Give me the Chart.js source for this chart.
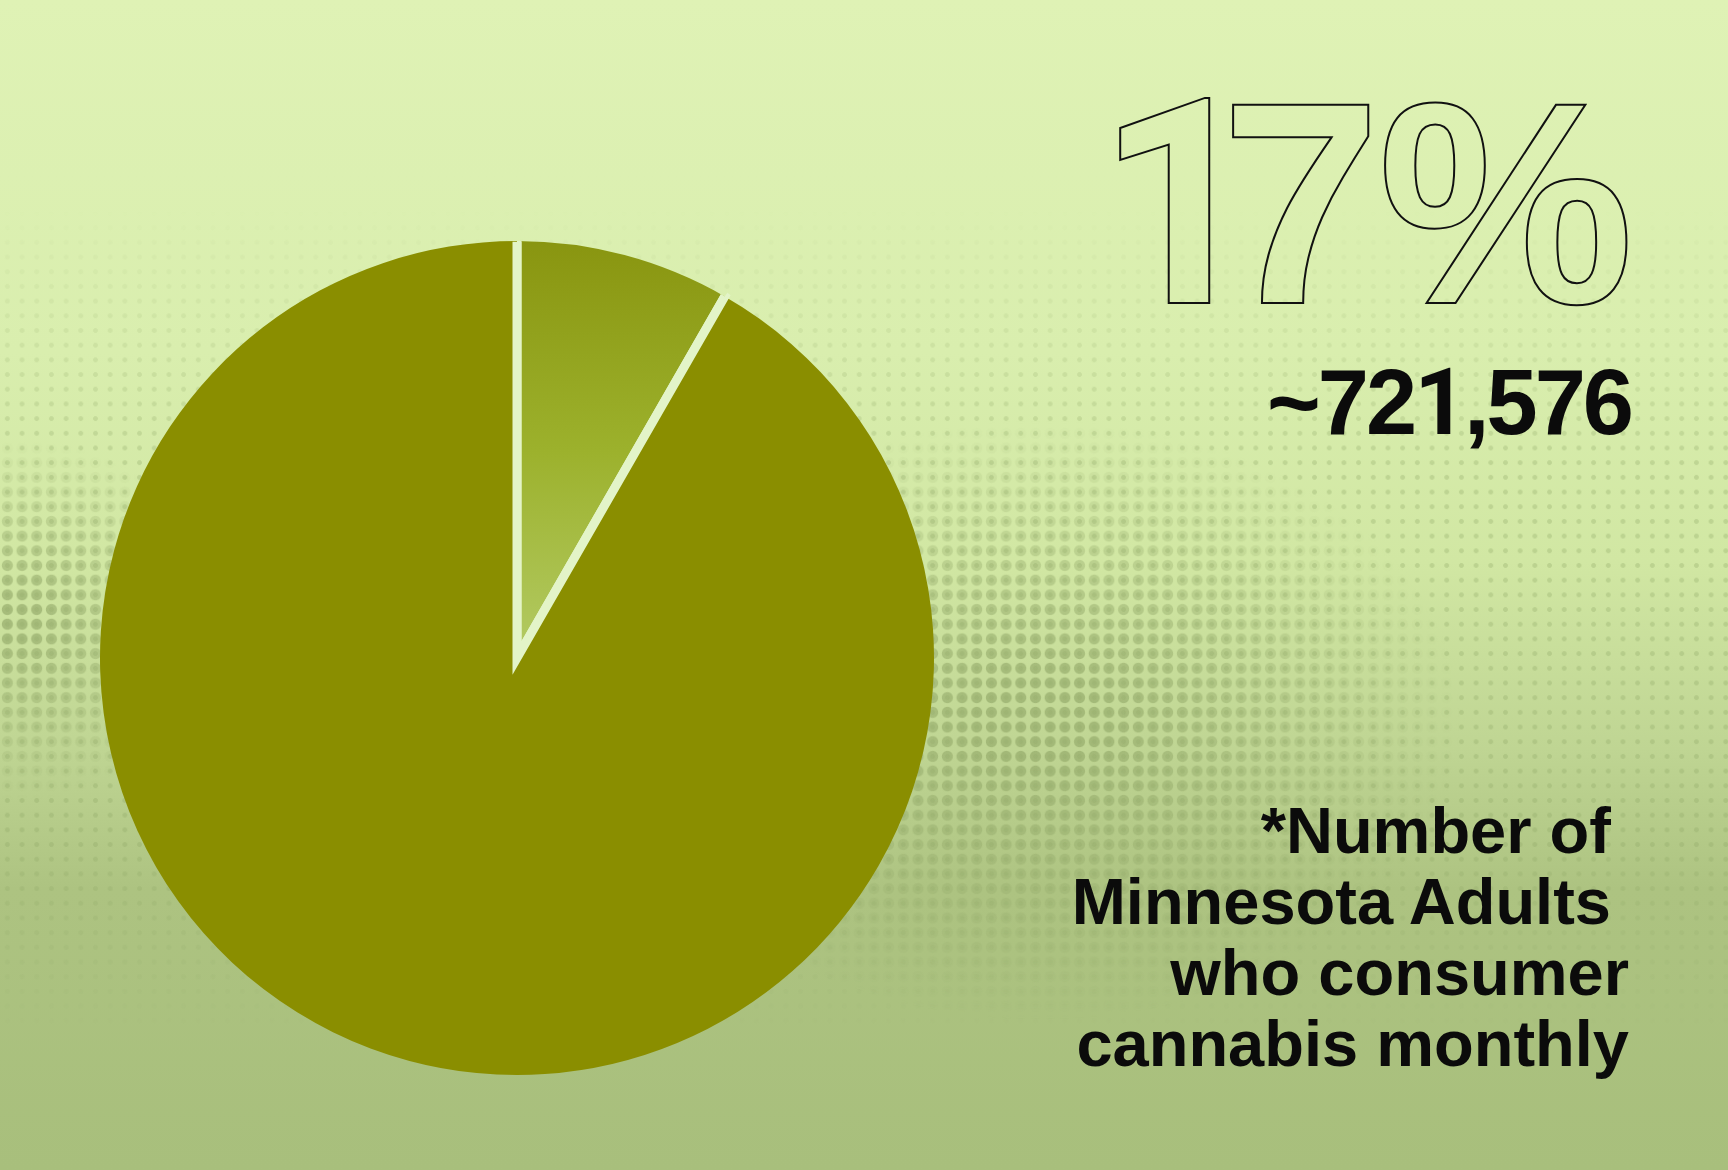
<!DOCTYPE html>
<html>
<head>
<meta charset="utf-8">
<script src="https://cdn.jsdelivr.net/npm/chart.js@4/dist/chart.umd.min.js"></script>
<style>
  html, body {
    margin: 0;
    padding: 0;
  }
  body {
    width: 1728px;
    height: 1170px;
    overflow: hidden;
    position: relative;
    font-family: "Liberation Sans", Arial, sans-serif;
    background: linear-gradient(to bottom, #dff2b5 0%, #d9eeae 30%, #d1e7a3 48%, #bfd593 64%, #adc381 76%, #a8bf7c 100%);
  }
  .dots {
    position: absolute;
    inset: 0;
    pointer-events: none;
  }
  .dots--fine {
    background-image: radial-gradient(circle, rgba(140, 165, 100, 0.3) 2px, transparent 2.8px);
    background-size: 14.7px 14.7px;
    -webkit-mask-image: linear-gradient(to bottom, transparent 18%, #000 40%, #000 72%, transparent 88%);
    mask-image: linear-gradient(to bottom, transparent 18%, #000 40%, #000 72%, transparent 88%);
  }
  .dots--coarse {
    background-image: radial-gradient(circle, rgba(150, 172, 108, 0.7) 5px, transparent 6px);
    background-size: 14.7px 14.7px;
    -webkit-mask-image: radial-gradient(ellipse 420px 300px at 1040px 720px, #000 15%, transparent 100%),
      radial-gradient(ellipse 200px 180px at 20px 620px, #000 10%, transparent 100%);
    mask-image: radial-gradient(ellipse 420px 300px at 1040px 720px, #000 15%, transparent 100%),
      radial-gradient(ellipse 200px 180px at 20px 620px, #000 10%, transparent 100%);
  }
  #chart-wrap {
    position: absolute;
    left: 67px;
    top: 208px;
    width: 900px;
    height: 900px;
  }
  /* Liberation's "1" has a foot, the reference one does not */
  .one {
    font-family: Roboto, "Liberation Sans", sans-serif;
  }
  .big-pct {
    position: absolute;
    right: 97px;
    top: 59px;
    font-size: 288px;
    line-height: 288px;
    font-weight: 700;
    letter-spacing: -3px;
    color: transparent;
    -webkit-text-stroke: 2px #111;
    white-space: pre;
  }
  .big-pct .one {
    margin-right: -38px;
  }
  .count {
    position: absolute;
    right: 97px;
    top: 356px;
    font-size: 92px;
    line-height: 92px;
    font-weight: 700;
    letter-spacing: -3px;
    color: #0b0b0b;
    white-space: pre;
  }
  .note {
    position: absolute;
    right: 99px;
    top: 795px;
    font-size: 65px;
    line-height: 71px;
    font-weight: 700;
    letter-spacing: 0;
    color: #0b0b0b;
    text-align: right;
    white-space: pre;
  }
</style>
</head>
<body>
  <div class="dots dots--fine"></div>
  <div class="dots dots--coarse"></div>
  <div id="chart-wrap"><canvas id="pie"></canvas></div>
  <div class="big-pct" id="big-pct"></div>
  <div class="count" id="count"></div>
  <div class="note" id="note"></div>

<script>
  // values (the wedge is ~30 deg, the headline says 17%)
  const sliceLabels = ['Monthly cannabis consumers', 'Other Minnesota adults'];
  const sliceValues = [8.3, 91.7];

  const headline = '17%';
  const countLabel = '~721,576';
  const noteLines = ['*Number of ', 'Minnesota Adults ', 'who consumer', 'cannabis monthly'];

  const pieRadius = 417;
  const gapColor = '#e3f4c8';
  const oliveColor = '#8a8e00';

  function setDigits(el, text) {
    el.textContent = '';
    for (const ch of text) {
      if (ch === '1') {
        const span = document.createElement('span');
        span.className = 'one';
        span.textContent = ch;
        el.appendChild(span);
      } else {
        el.appendChild(document.createTextNode(ch));
      }
    }
  }

  setDigits(document.getElementById('big-pct'), headline);
  setDigits(document.getElementById('count'), countLabel);
  document.getElementById('note').textContent = noteLines.join('\n');

  const total = sliceValues.reduce((acc, v) => acc + v, 0);

  function sliceFill(context) {
    if (context.dataIndex !== 0) return oliveColor;
    const { chart } = context;
    const area = chart.chartArea;
    if (!area) return '#9cb02c';
    const cy = (area.top + area.bottom) / 2;
    const grad = chart.ctx.createLinearGradient(0, cy - pieRadius, 0, cy);
    grad.addColorStop(0, '#899510');
    grad.addColorStop(0.5, '#9cb12c');
    grad.addColorStop(1, '#b3cb64');
    return grad;
  }

  // only stroke the two radii of each wedge, not the outer arc
  function radiusDash(context) {
    const alpha = (2 * Math.PI * sliceValues[context.dataIndex]) / total;
    return [0, pieRadius * alpha, 2 * pieRadius + 20, 100000];
  }

  new Chart(document.getElementById('pie'), {
    type: 'pie',
    data: {
      labels: sliceLabels,
      datasets: [
        {
          data: sliceValues,
          radius: pieRadius,
          backgroundColor: sliceFill,
          borderColor: gapColor,
          borderWidth: 9,
          borderDash: radiusDash,
          borderJoinStyle: 'miter'
        }
      ]
    },
    options: {
      responsive: true,
      maintainAspectRatio: false,
      animation: false,
      layout: { padding: 0 },
      plugins: {
        legend: { display: false },
        tooltip: { enabled: false }
      }
    }
  });
</script>
</body>
</html>
